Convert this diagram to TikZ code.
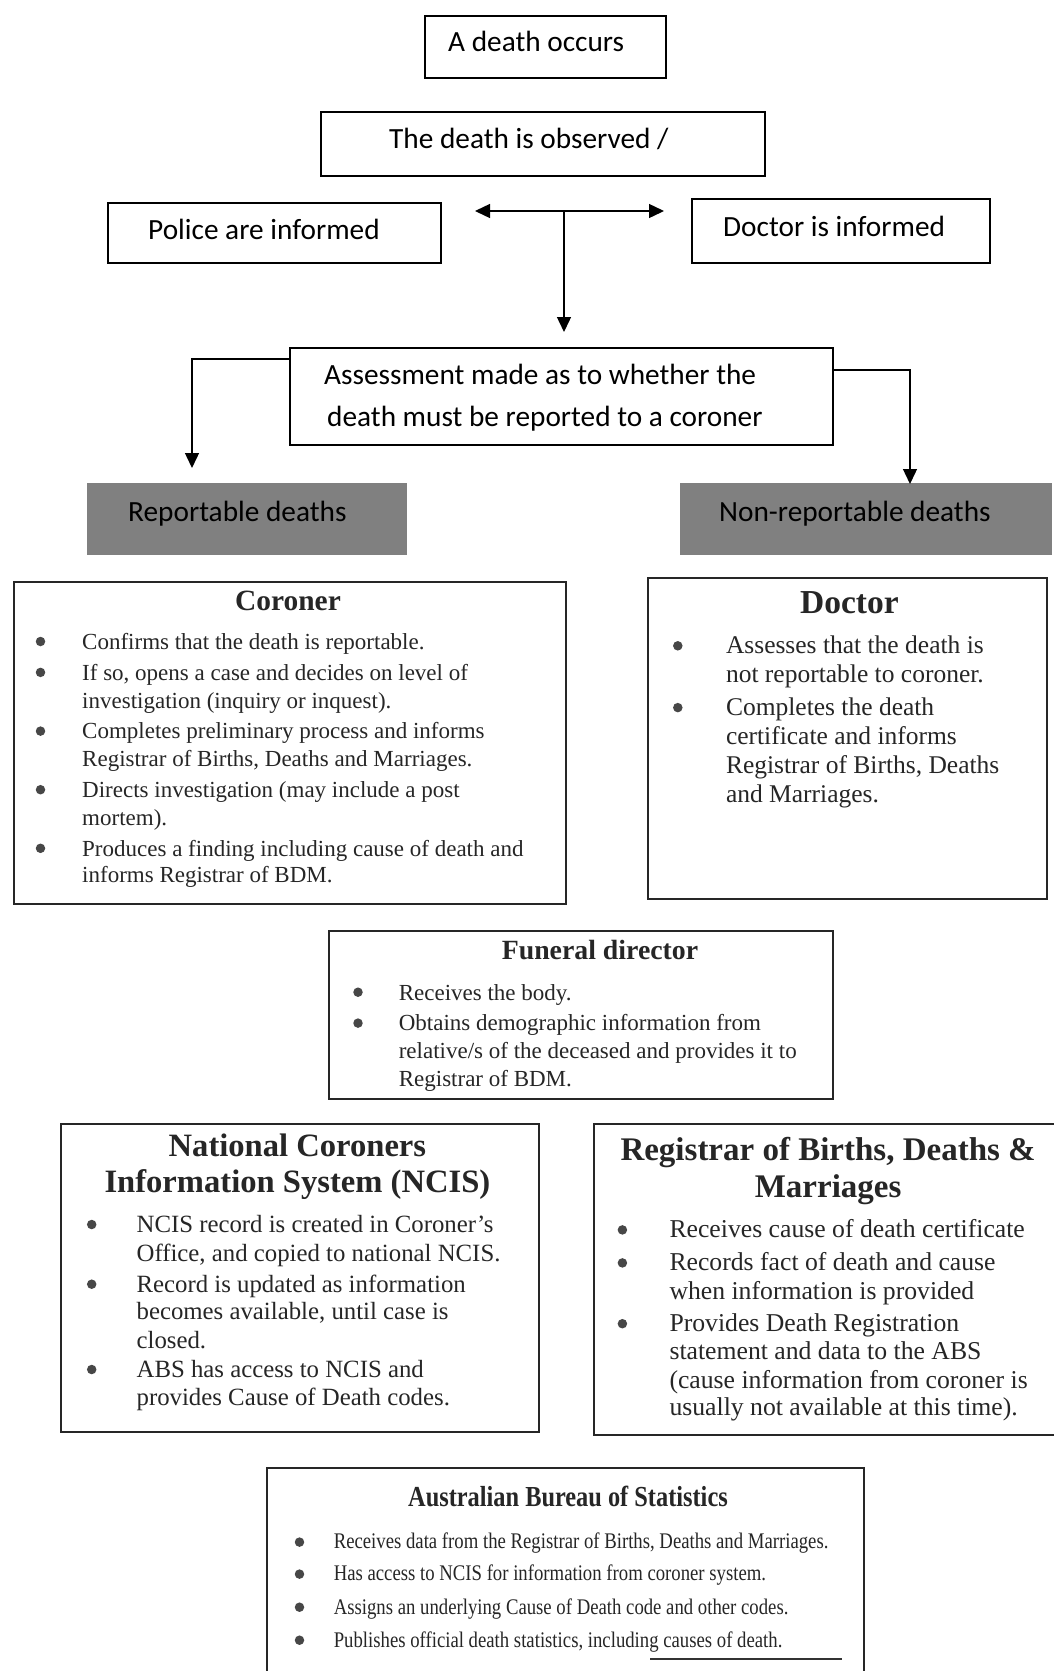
\documentclass[tikz,border=0pt]{standalone}
\usepackage{fontspec}
\setmainfont{Liberation Serif}
\newfontfamily\calfont{Carlito}
\newfontfamily\absfont[FakeStretch=0.84]{Liberation Serif}
\usetikzlibrary{arrows.meta}
\definecolor{txt}{HTML}{262626}
\definecolor{grayfill}{HTML}{808080}
\begin{document}
\begin{tikzpicture}[x=1pt,y=-1pt,
  frame/.style={draw, line width=1.5pt, inner sep=0, anchor=north west},
  sfr/.style={draw=black!85, line width=2pt, inner sep=0, anchor=north west},
  gbox/.style={fill=grayfill, inner sep=0, anchor=north west},
  lbl/.style={font=\calfont\fontsize{29.3}{30}\selectfont, anchor=mid west, inner sep=0, yshift=-6.5pt},
  ttl/.style={font=\bfseries\fontsize{#1}{#1}\selectfont, text=txt, anchor=mid, inner sep=0, yshift=-6.5pt},
  ln/.style={font=\fontsize{#1}{#1}\selectfont, text=txt, anchor=mid west, inner sep=0, yshift=-6.5pt},
  absln/.style={font=\absfont\fontsize{22.3}{22.3}\selectfont, text=txt, anchor=mid west, inner sep=0, yshift=-5.5pt},
  bul/.style={circle, fill=txt!85, minimum size=9.5, inner sep=0},
  tip/.tip={Triangle[length=15pt,width=14pt]},
  conn/.style={line width=1.4pt, -tip},
  conn2/.style={line width=1.4pt, tip-tip}
]
\useasboundingbox (0,0) rectangle (1053,1671);
\fill[white] (0,0) rectangle (1053,1671);

% top boxes
\node[frame, minimum width=241, minimum height=62] (occ) at (424,15) {};
\node[lbl] (occt) at (448,43) {A death occurs};
\node[frame, minimum width=444, minimum height=64] (obs) at (320,111) {};
\node[lbl] (obst) at (389,140) {The death is observed /};
\node[frame, minimum width=333, minimum height=60] (pol) at (107,202) {};
\node[lbl] (polt) at (148,231) {Police are informed};
\node[frame, minimum width=298, minimum height=64] (doc) at (691,198) {};
\node[lbl] (doct) at (723,228) {Doctor is informed};

\coordinate (hl) at (475,211);
\coordinate (hr) at (664,211);
\coordinate (hm) at (564,211);
\coordinate (vd) at (564,332);
\draw[conn2] (hl) -- (hr);
\draw[conn] (hm) -- (vd);

% assessment
\node[frame, minimum width=543, minimum height=97] (ass) at (289,347) {};
\node[lbl] (ass1) at (324,376) {Assessment made as to whether the};
\node[lbl] (ass2) at (327,418) {death must be reported to a coroner};

\node[gbox, minimum width=320, minimum height=72] (rep) at (87,483) {};
\node[lbl] (rept) at (128,513) {Reportable deaths};
\node[gbox, minimum width=372, minimum height=72] (nrep) at (680,483) {};
\node[lbl] (nrept) at (719,513) {Non-reportable deaths};

\coordinate (lt) at (192,468);
\coordinate (rt) at (910,484);
\draw[conn] (ass.west |- 0,359) -| (lt);
\draw[conn] (ass.east |- 0,370) -| (rt);

% Coroner
\node[sfr, minimum width=552, minimum height=322] (cor) at (13,581) {};
\node[ttl=29.4] (cort) at (288,602) {Coroner};
\node[bul] (cb1) at (40.5,641.5) {};
\node[bul] (cb2) at (40.5,672.4) {};
\node[bul] (cb3) at (40.5,731.1) {};
\node[bul] (cb4) at (40.5,789.7) {};
\node[bul] (cb5) at (40.5,848.3) {};
\node[ln=23] (c1) at (82,640.5) {Confirms that the death is reportable.};
\node[ln=23] (c2) at (82,671.4) {If so, opens a case and decides on level of};
\node[ln=23] (c3) at (82,699.2) {investigation (inquiry or inquest).};
\node[ln=23] (c4) at (82,730.1) {Completes preliminary process and informs};
\node[ln=23] (c5) at (82,757.8) {Registrar of Births, Deaths and Marriages.};
\node[ln=23] (c6) at (82,788.7) {Directs investigation (may include a post};
\node[ln=23] (c7) at (82,816.4) {mortem).};
\node[ln=23] (c8) at (82,847.3) {Produces a finding including cause of death and};
\node[ln=23] (c9) at (82,873.9) {informs Registrar of BDM.};

% Doctor
\node[sfr, minimum width=399, minimum height=321] (dr) at (647,577) {};
\node[ttl=33.5] (drt) at (849.4,604.3) {Doctor};
\node[bul] (db1) at (677.8,645.8) {};
\node[bul] (db2) at (677.8,707.6) {};
\node[ln=25.5] (d1) at (725.8,644.8) {Assesses that the death is};
\node[ln=25.5] (d2) at (725.8,673.6) {not reportable to coroner.};
\node[ln=25.5] (d3) at (725.8,706.6) {Completes the death};
\node[ln=25.5] (d4) at (725.8,735.4) {certificate and informs};
\node[ln=25.5] (d5) at (725.8,764.2) {Registrar of Births, Deaths};
\node[ln=25.5] (d6) at (725.8,794.0) {and Marriages.};

% Funeral director
\node[sfr, minimum width=504, minimum height=168] (fun) at (328,930) {};
\node[ttl=27.8] (funt) at (600,950.7) {Funeral director};
\node[bul] (fb1) at (358,992.2) {};
\node[bul] (fb2) at (358,1023.1) {};
\node[ln=23] (f1) at (398.6,991.2) {Receives the body.};
\node[ln=23] (f2) at (398.6,1022.1) {Obtains demographic information from};
\node[ln=23] (f3) at (398.6,1049.8) {relative/s of the deceased and provides it to};
\node[ln=23] (f4) at (398.6,1077.5) {Registrar of BDM.};

% NCIS
\node[sfr, minimum width=478, minimum height=308] (nc) at (60,1123) {};
\node[ttl=32.6] (nct1) at (297.4,1147.9) {National Coroners};
\node[ttl=32.6] (nct2) at (297.4,1184.1) {Information System (NCIS)};
\node[bul] (nb1) at (91.7,1224.5) {};
\node[bul] (nb2) at (91.7,1284.2) {};
\node[bul] (nb3) at (91.7,1369.5) {};
\node[ln=24.8] (n1) at (136.4,1223.5) {NCIS record is created in Coroner’s};
\node[ln=24.8] (n2) at (136.4,1252.3) {Office, and copied to national NCIS.};
\node[ln=24.8] (n3) at (136.4,1283.2) {Record is updated as information};
\node[ln=24.8] (n4) at (136.4,1310.9) {becomes available, until case is};
\node[ln=24.8] (n5) at (136.4,1339.7) {closed.};
\node[ln=24.8] (n6) at (136.4,1368.5) {ABS has access to NCIS and};
\node[ln=24.8] (n7) at (136.4,1396.2) {provides Cause of Death codes.};

% Registrar
\node[sfr, minimum width=470, minimum height=311] (reg) at (593,1123) {};
\node[ttl=33] (regt1) at (828.1,1152.1) {Registrar of Births, Deaths \&};
\node[ttl=33] (regt2) at (828.1,1188.4) {Marriages};
\node[bul] (rb1) at (622.4,1229.9) {};
\node[bul] (rb2) at (622.4,1262.9) {};
\node[bul] (rb3) at (622.4,1323.7) {};
\node[ln=25.7] (r1) at (669.3,1228.9) {Receives cause of death certificate};
\node[ln=25.7] (r2) at (669.3,1261.9) {Records fact of death and cause};
\node[ln=25.7] (r3) at (669.3,1290.7) {when information is provided};
\node[ln=25.7] (r4) at (669.3,1322.7) {Provides Death Registration};
\node[ln=25.7] (r5) at (669.3,1350.4) {statement and data to the ABS};
\node[ln=25.7] (r6) at (669.3,1379.2) {(cause information from coroner is};
\node[ln=25.7] (r7) at (669.3,1406.9) {usually not available at this time).};

% ABS
\node[sfr, minimum width=597, minimum height=220] (abs) at (266,1467) {};
\node[font=\absfont\bfseries\fontsize{29}{29}\selectfont, text=txt, anchor=mid, inner sep=0, yshift=-6.5pt] (abst) at (568,1497.4) {Australian Bureau of Statistics};
\node[bul] (ab1) at (299.5,1542.1) {};
\node[bul] (ab2) at (299.5,1574.1) {};
\node[bul] (ab3) at (299.5,1607.2) {};
\node[bul] (ab4) at (299.5,1640.2) {};
\node[absln] (a1) at (333.6,1541.1) {Receives data from the Registrar of Births, Deaths and Marriages.};
\node[absln] (a2) at (333.6,1573.1) {Has access to NCIS for information from coroner system.};
\node[absln] (a3) at (333.6,1606.2) {Assigns an underlying Cause of Death code and other codes.};
\node[absln] (a4) at (333.6,1639.2) {Publishes official death statistics, including causes of death.};
\coordinate (ul1) at (650,1659);
\coordinate (ul2) at (842,1659);
\draw[line width=1.5pt, black!80] (ul1) -- (ul2);
\end{tikzpicture}
\end{document}
